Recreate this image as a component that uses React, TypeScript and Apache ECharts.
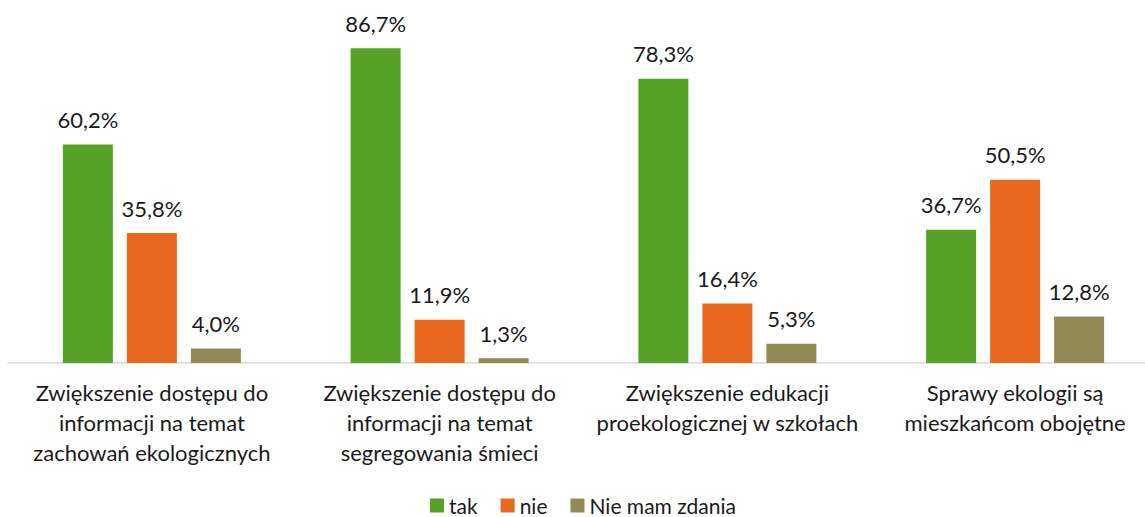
import React, { useEffect, useRef } from "react";
import * as echarts from "echarts";

const categories = [
  "Zwiększenie dostępu do\ninformacji na temat\nzachowań ekologicznych",
  "Zwiększenie dostępu do\ninformacji na temat\nsegregowania śmieci",
  "Zwiększenie edukacji\nproekologicznej w szkołach",
  "Sprawy ekologii są\nmieszkańcom obojętne",
];
const seriesNames = ["tak", "nie", "Nie mam zdania"];
const tak = [60.2, 86.7, 78.3, 36.7];
const nie = [35.8, 11.9, 16.4, 50.5];
const brak = [4.0, 1.3, 5.3, 12.8];
const colors = ["#55a226", "#e8681d", "#938955"];

const FONT = "Lato, 'Open Sans', sans-serif";

export default function App() {
  const ref = useRef<HTMLDivElement>(null);
  useEffect(() => {
    const chart = echarts.init(ref.current!, null, { renderer: "svg" });
    const values = [tak, nie, brak];
    chart.setOption({
      animation: false,
      textStyle: { fontFamily: FONT },
      grid: { left: 8, top: 0, right: 1, height: 363, containLabel: false },
      legend: {
        top: 495,
        left: 430,
        padding: 0,
        itemWidth: 14,
        itemHeight: 14,
        itemGap: 23,
        icon: "rect",
        textStyle: { fontFamily: FONT, fontSize: 21, color: "#1a1a1a" },
        data: seriesNames,
      },
      xAxis: {
        type: "category",
        data: categories,
        axisLine: { lineStyle: { color: "#d9d9d9", width: 1.5 } },
        axisTick: { show: false },
        axisLabel: {
          interval: 0,
          margin: 14,
          fontFamily: FONT,
          fontSize: 22,
          lineHeight: 30,
          color: "#1a1a1a",
        },
      },
      yAxis: {
        type: "value",
        min: 0,
        max: 100,
        show: false,
        splitLine: { show: false },
      },
      series: seriesNames.map((name, i) => ({
        name,
        type: "bar",
        data: values[i],
        barWidth: 50,
        barGap: "28%",
        itemStyle: { color: colors[i] },
        label: {
          show: true,
          position: "top",
          distance: 14,
          fontFamily: FONT,
          fontSize: 22,
          color: "#1a1a1a",
          formatter: (p: any) => p.value.toFixed(1).replace(".", ",") + "%",
        },
      })),
    });
    return () => chart.dispose();
  }, []);
  return (
    <div style={{ position: "fixed", left: 0, top: 0, width: 1145, height: 517, overflow: "hidden", background: "#fff" }}>
      <div ref={ref} style={{ width: 1160, height: 517 }} />
    </div>
  );
}
